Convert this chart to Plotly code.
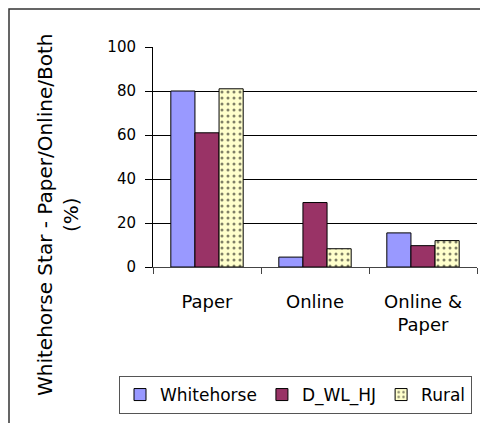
import plotly.graph_objects as go

categories = ["Paper", "Online", "Online &<br>Paper"]
whitehorse = [80, 4.5, 15.5]
d_wl_hj = [61, 29.3, 9.7]
rural = [81, 8.3, 12]
y_ticks = [0, 20, 40, 60, 80, 100]

# page body has an 8px margin; work in reference pixel coords and shift
OFF = 8
W, H = 480, 415
PL, PR, PT, PB = 153, 477, 47, 267  # plot area in reference pixels
L = PL - OFF
T = PT - OFF
R = W - (PR - OFF)
B = H - (PB - OFF)
pw = PR - PL
ph = PB - PT

def px_x(x):
    return (x - PL) / pw

def px_y(y):
    return (PB - y) / ph

FONT = "DejaVu Sans"

fig = go.Figure()
fig.add_trace(go.Bar(name="Whitehorse", x=categories, y=whitehorse,
                     marker=dict(color="#9999FF", line=dict(color="black", width=1))))
fig.add_trace(go.Bar(name="D_WL_HJ", x=categories, y=d_wl_hj,
                     marker=dict(color="#993366", line=dict(color="black", width=1))))
fig.add_trace(go.Bar(name="Rural", x=categories, y=rural,
                     marker=dict(color="#FFFFCC", line=dict(color="black", width=1),
                                 pattern=dict(shape=".", fgcolor="black", bgcolor="#FFFFCC",
                                              size=6, solidity=0.2))))

fig.update_layout(
    width=W, height=H,
    margin=dict(l=L, r=R, t=T, b=B, autoexpand=False),
    paper_bgcolor="white", plot_bgcolor="white",
    barmode="group", bargap=0.33, bargroupgap=0,
    font=dict(family=FONT, size=15, color="black"),
    showlegend=True,
    legend=dict(orientation="h", x=px_x(119), y=px_y(376), xanchor="left", yanchor="top",
                bordercolor="#555555", borderwidth=1, bgcolor="white",
                font=dict(family=FONT, size=17, color="black"),
                itemwidth=30, tracegroupgap=0),
    xaxis=dict(showline=True, linecolor="#444444", linewidth=1,
               ticks="outside", tickson="boundaries", ticklen=6, tickcolor="#444444",
               tickfont=dict(size=18), ticklabelstandoff=18, showgrid=False),
    yaxis=dict(range=[0, 100], tickvals=y_ticks, showline=True, linecolor="black",
               linewidth=1, ticks="outside", ticklen=7, tickcolor="black",
               showgrid=True, gridcolor="black", gridwidth=1, zeroline=False,
               tickfont=dict(size=15), ticklabelstandoff=6),
    shapes=[dict(type="rect", xref="paper", yref="paper",
                 x0=px_x(9), x1=px_x(484), y0=px_y(440), y1=px_y(9),
                 line=dict(color="#333333", width=1.5), fillcolor="rgba(0,0,0,0)")],
    annotations=[dict(text="Whitehorse Star - Paper/Online/Both<br>(%)",
                      xref="paper", yref="paper", x=px_x(58), y=px_y(215),
                      xanchor="center", yanchor="middle", textangle=-90, showarrow=False,
                      font=dict(family=FONT, size=20, color="black"))],
)

fig.write_html("out.html")
